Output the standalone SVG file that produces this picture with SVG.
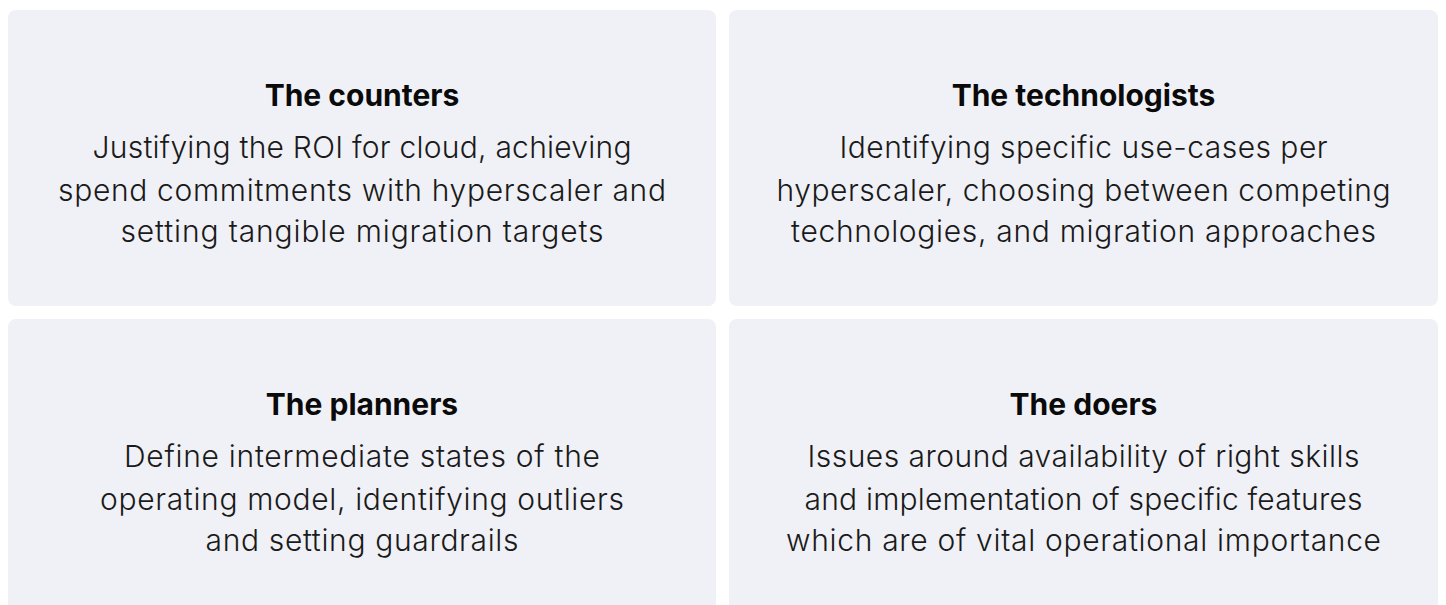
<svg xmlns="http://www.w3.org/2000/svg" width="1446" height="605" viewBox="0 0 1446 605">
  <style>
    .card { fill: #F0F1F6; }
    .title { font-family: Inter, "Liberation Sans", sans-serif; font-weight: 700; font-size: 30px; fill: #0A0A0A; text-anchor: middle; }
    .body { font-family: Inter, "Liberation Sans", sans-serif; font-weight: 300; font-size: 30px; fill: #1A1A1A; text-anchor: middle; }
  </style>
  <rect x="0" y="0" width="1446" height="605" fill="#FFFFFF"/>
  <g id="node-counters">
    <rect class="card" x="8" y="10" width="708" height="296" rx="8"/>
    <text class="title" x="362" y="106">The counters</text>
    <text class="body" x="362" y="158" textLength="539">Justifying the ROI for cloud, achieving</text>
    <text class="body" x="362" y="201" textLength="608">spend commitments with hyperscaler and</text>
    <text class="body" x="362" y="242" textLength="483">setting tangible migration targets</text>
  </g>
  <g id="node-technologists">
    <rect class="card" x="729" y="10" width="709" height="296" rx="8"/>
    <text class="title" x="1083.5" y="106">The technologists</text>
    <text class="body" x="1083.5" y="158" textLength="488">Identifying specific use-cases per</text>
    <text class="body" x="1083.5" y="201" textLength="614">hyperscaler, choosing between competing</text>
    <text class="body" x="1083.5" y="242" textLength="585">technologies, and migration approaches</text>
  </g>
  <g id="node-planners">
    <rect class="card" x="8" y="319" width="708" height="300" rx="8"/>
    <text class="title" x="362" y="415">The planners</text>
    <text class="body" x="362" y="467" textLength="476">Define intermediate states of the</text>
    <text class="body" x="362" y="510" textLength="524">operating model, identifying outliers</text>
    <text class="body" x="362" y="551" textLength="313">and setting guardrails</text>
  </g>
  <g id="node-doers">
    <rect class="card" x="729" y="319" width="709" height="300" rx="8"/>
    <text class="title" x="1083.5" y="415">The doers</text>
    <text class="body" x="1083.5" y="467" textLength="552">Issues around availability of right skills</text>
    <text class="body" x="1083.5" y="510" textLength="558">and implementation of specific features</text>
    <text class="body" x="1083.5" y="551" textLength="595">which are of vital operational importance</text>
  </g>
  <g id="connectors"></g>
</svg>
